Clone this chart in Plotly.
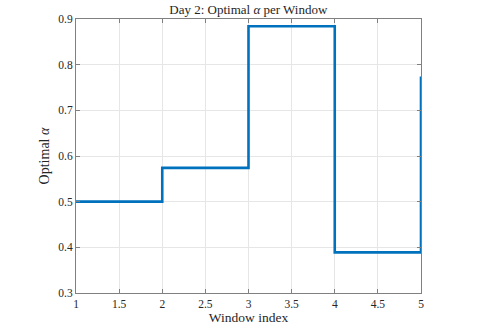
import plotly.graph_objects as go

# Optimal alpha per window (Day 2), drawn as stairs
windows = [1, 2, 3, 4, 5]
alpha_opt = [0.500, 0.574, 0.884, 0.389, 0.774]

x_ticks = [1, 1.5, 2, 2.5, 3, 3.5, 4, 4.5, 5]
y_ticks = [0.3, 0.4, 0.5, 0.6, 0.7, 0.8, 0.9]

BLUE = "#0072BD"
FONT = "Liberation Serif"
TXT = "#262626"

fig = go.Figure()
fig.add_scatter(
    x=windows, y=alpha_opt, mode="lines", line_shape="hv",
    line=dict(color=BLUE, width=2.6), showlegend=False,
)

axis_common = dict(
    showline=True, linecolor="#808080", linewidth=1, mirror="ticks",
    ticks="inside", ticklen=4, tickcolor="#808080",
    showgrid=True, gridcolor="#e6e6e6", gridwidth=1, zeroline=False,
    tickfont=dict(family=FONT, size=11.5, color=TXT), automargin=False,
)
fig.update_xaxes(
    range=[1, 5], tickvals=x_ticks, ticktext=[f"{v:g}" for v in x_ticks],
    title=dict(text="Window index", font=dict(family=FONT, size=13.5, color=TXT), standoff=0),
    **axis_common,
)
fig.update_yaxes(
    range=[0.3, 0.9], tickvals=y_ticks, ticktext=[f"{v:g}" for v in y_ticks],
    title=dict(text="Optimal <i>α</i>", font=dict(family=FONT, size=14, color=TXT), standoff=5),
    **axis_common,
)
fig.update_layout(
    width=485, height=329,
    margin=dict(l=76, r=64, t=19, b=36),
    paper_bgcolor="white", plot_bgcolor="white",
    title=dict(text="Day 2: Optimal <i>α</i> per Window", x=0.512, xanchor="center",
               y=0.97, yanchor="middle", font=dict(family=FONT, size=13, color=TXT)),
)
# drop the page's default body margin so the figure sits at the window origin
fig.write_html("out.html", config={"displayModeBar": False},
               post_script="document.body.style.margin='0';")
